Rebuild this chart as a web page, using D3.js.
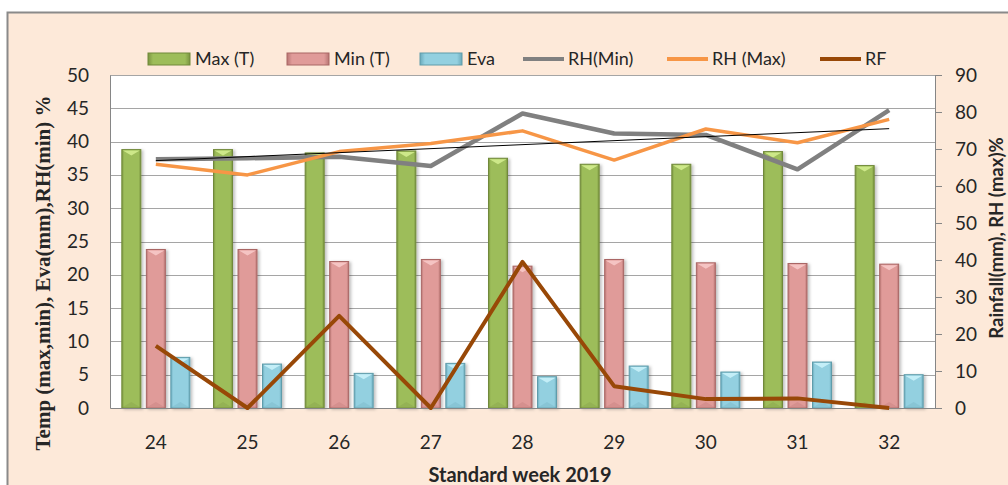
<!DOCTYPE html>
<html><head><meta charset="utf-8">
<script src="https://cdn.jsdelivr.net/npm/d3@7"></script>
<style>
html,body{margin:0;padding:0;background:#fff;}
svg{display:block;}
</style></head>
<body>
<svg id="chart" width="1008" height="485"></svg>
<script>
// ---- data ----
const weeks = ["24","25","26","27","28","29","30","31","32"];
const maxT  = [38.8, 38.8, 38.3, 38.6, 37.5, 36.6, 36.6, 38.5, 36.4];
const minT  = [23.8, 23.8, 22.0, 22.3, 21.3, 22.3, 21.8, 21.7, 21.6];
const eva   = [7.6, 6.6, 5.2, 6.7, 4.7, 6.3, 5.4, 6.9, 5.0];
const rhMin = [67.2, 67.5, 67.9, 65.4, 79.6, 74.2, 73.8, 64.5, 80.5];
const rhMax = [65.9, 63.0, 69.3, 71.5, 74.9, 67.0, 75.4, 71.7, 78.0];
const rf    = [16.8, 0, 24.9, 0, 39.5, 5.9, 2.4, 2.6, 0];
const leftTicks  = [0,5,10,15,20,25,30,35,40,45,50];
const rightTicks = [0,10,20,30,40,50,60,70,80,90];

const svg = d3.select("#chart");
const M = {l:110, r:935, t:75, b:408};
const FONT = "Lato, 'Open Sans', sans-serif";

// outer chart area
svg.append("rect").attr("x",7.5).attr("y",12.5).attr("width",1010).attr("height",490)
  .attr("fill","#FDE9D9").attr("stroke","#8a8a8a").attr("stroke-width",2);
// plot area
svg.append("rect").attr("x",M.l).attr("y",M.t).attr("width",M.r-M.l).attr("height",M.b-M.t).attr("fill","#fff");

const x0 = d3.scaleBand().domain(weeks).range([M.l, M.r]);
const x1 = d3.scaleBand().domain(["max","min","eva"]).range([x0.bandwidth()/2-34, x0.bandwidth()/2+34]).paddingInner(0.2245);
const yL = d3.scaleLinear().domain([0,50]).range([M.b, M.t]);
const yR = d3.scaleLinear().domain([0,90]).range([M.b, M.t]);

// gridlines
svg.append("g").selectAll("line").data(leftTicks.slice(1)).join("line")
  .attr("x1",M.l).attr("x2",M.r).attr("y1",d=>Math.round(yL(d))+0.5).attr("y2",d=>Math.round(yL(d))+0.5)
  .attr("stroke","#a5a5a5").attr("stroke-width",1);

// gradients
const defs = svg.append("defs");
function grad(id, edge, mid){
  const g = defs.append("linearGradient").attr("id",id).attr("x1","0").attr("x2","1").attr("y1","0").attr("y2","0");
  g.append("stop").attr("offset","0").attr("stop-color",edge);
  g.append("stop").attr("offset","0.12").attr("stop-color",mid);
  g.append("stop").attr("offset","0.88").attr("stop-color",mid);
  g.append("stop").attr("offset","1").attr("stop-color",edge);
}
grad("gMax","#7a9440","#9dbd5a");
grad("gMin","#b87674","#e09b99");
grad("gEva","#6aaabb","#93d0e0");
const shadow = defs.append("filter").attr("id","sh").attr("x","-30%").attr("y","-10%").attr("width","160%").attr("height","130%");
shadow.append("feDropShadow").attr("dx",2).attr("dy",1).attr("stdDeviation",1.5).attr("flood-color","#000").attr("flood-opacity",0.25);

const seriesBars = [
  {key:"max", vals:maxT, fill:"url(#gMax)", stroke:"#71893a", top:"#d3ec8e"},
  {key:"min", vals:minT, fill:"url(#gMin)", stroke:"#a96664", top:"#f7c9c8"},
  {key:"eva", vals:eva,  fill:"url(#gEva)", stroke:"#5f9caa", top:"#c9f1fa"}
];
const bars = svg.append("g");
seriesBars.forEach(s=>{
  const g = bars.append("g");
  weeks.forEach((w,i)=>{
    const x = x0(w) + x1(s.key), bw = x1.bandwidth();
    const y = yL(s.vals[i]), h = M.b - y;
    g.append("rect").attr("x",x).attr("y",y).attr("width",bw).attr("height",h)
      .attr("fill",s.fill).attr("stroke",s.stroke).attr("stroke-width",1).attr("filter","url(#sh)");
    const bv = Math.min(5, h/2);
    g.append("path").attr("d",`M${x+1},${y+1}L${x+bw-1},${y+1}L${x+bw/2},${y+bv+1}Z`).attr("fill",s.top).attr("opacity",0.9);
    g.append("path").attr("d",`M${x+1},${M.b-1}L${x+bw-1},${M.b-1}L${x+bw/2},${M.b-bv-1}Z`).attr("fill",s.stroke).attr("opacity",0.2);
  });
});

// axes
const axL = svg.append("g").attr("transform",`translate(${M.l},0)`)
  .call(d3.axisLeft(yL).tickValues(leftTicks).tickSize(0).tickPadding(21));
axL.select(".domain").attr("stroke","#868686");
axL.selectAll("text").attr("font-family",FONT).attr("font-size",19).attr("fill","#262626");

const axR = svg.append("g").attr("transform",`translate(${M.r},0)`)
  .call(d3.axisRight(yR).tickValues(rightTicks).tickSize(7).tickPadding(13));
axR.select(".domain").attr("stroke","#868686");
axR.selectAll("line").attr("stroke","#868686");
axR.selectAll("text").attr("font-family",FONT).attr("font-size",19).attr("fill","#262626");

const axB = svg.append("g").attr("transform",`translate(0,${M.b})`)
  .call(d3.axisBottom(x0).tickSize(0).tickPadding(28));
axB.select(".domain").attr("stroke","#868686");
axB.selectAll("text").attr("font-family",FONT).attr("font-size",19).attr("fill","#262626");

// lines
const cx = w => x0(w) + x0.bandwidth()/2;
const lineGen = vals => d3.line().x((d,i)=>cx(weeks[i])).y(d=>yR(d))(vals);
svg.append("path").attr("d",lineGen(rhMin)).attr("fill","none").attr("stroke","#808080").attr("stroke-width",4.5).attr("stroke-linejoin","round");
svg.append("path").attr("d",lineGen(rhMax)).attr("fill","none").attr("stroke","#F79646").attr("stroke-width",3.5).attr("stroke-linejoin","round");
svg.append("path").attr("d",lineGen(rf)).attr("fill","none").attr("stroke","#984807").attr("stroke-width",4).attr("stroke-linejoin","round");

// linear trend of RH(Min)
const n = rhMin.length, xs = d3.range(n);
const mx = d3.mean(xs), my = d3.mean(rhMin);
const slope = d3.sum(xs, i=>(i-mx)*(rhMin[i]-my)) / d3.sum(xs, i=>(i-mx)*(i-mx));
const trend = [my + slope*(0-mx), my + slope*(n-1-mx)];
svg.append("line").attr("x1",cx(weeks[0])).attr("x2",cx(weeks[n-1]))
  .attr("y1",yR(trend[0])).attr("y2",yR(trend[1])).attr("stroke","#000").attr("stroke-width",1);

// titles
svg.append("text").attr("transform","translate(50,273) rotate(-90)").attr("text-anchor","middle")
  .attr("font-family","'Liberation Serif','Times New Roman',serif").attr("font-weight","bold").attr("font-size",21)
  .attr("fill","#262626").text("Temp (max,min), Eva(mm),RH(min) %");
svg.append("text").attr("transform","translate(1003,238) rotate(-90)").attr("text-anchor","middle")
  .attr("font-family",FONT).attr("font-weight","bold").attr("font-size",18.5)
  .attr("fill","#262626").text("Rainfall(mm), RH (max)%");
svg.append("text").attr("x",520).attr("y",482).attr("text-anchor","middle")
  .attr("font-family",FONT).attr("font-weight","bold").attr("font-size",20)
  .attr("fill","#262626").text("Standard week 2019");

// legend
const legendItems = [
  {label:"Max (T)", type:"bar", fill:"url(#gMax)", stroke:"#71893a", x:148},
  {label:"Min (T)", type:"bar", fill:"url(#gMin)", stroke:"#a96664", x:287},
  {label:"Eva", type:"bar", fill:"url(#gEva)", stroke:"#5f9caa", x:420},
  {label:"RH(Min)", type:"line", stroke:"#808080", x:523},
  {label:"RH (Max)", type:"line", stroke:"#F79646", x:667},
  {label:"RF", type:"line", stroke:"#984807", x:820}
];
const lg = svg.append("g");
legendItems.forEach(it=>{
  if(it.type==="bar"){
    lg.append("rect").attr("x",it.x).attr("y",53).attr("width",42).attr("height",12)
      .attr("fill",it.fill).attr("stroke",it.stroke);
  } else {
    lg.append("line").attr("x1",it.x).attr("x2",it.x+41).attr("y1",59).attr("y2",59)
      .attr("stroke",it.stroke).attr("stroke-width",4);
  }
  lg.append("text").attr("x",it.x+(it.type==="bar"?47:45)).attr("y",59).attr("dy","0.35em")
    .attr("font-family",FONT).attr("font-size",18).attr("fill","#262626").text(it.label);
});
</script>
</body></html>
